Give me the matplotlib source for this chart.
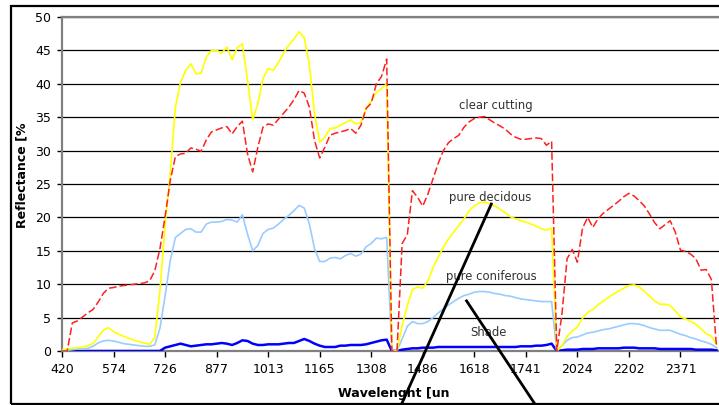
import numpy as np
import matplotlib
matplotlib.use('Agg')
import matplotlib.pyplot as plt
from matplotlib.patches import Rectangle

# wavelength labels shown every 10th band
wavelength_labels = ['420', '574', '726', '877', '1013', '1165', '1308',
                     '1486', '1618', '1741', '2024', '2202', '2371']

clear_cutting = [
    0.0, 0.0, 4.2, 4.5, 5.1, 5.7, 6.2, 7.3, 8.6, 9.4,
    9.5, 9.7, 9.8, 9.9, 10.0, 10.1, 10.2, 10.5, 12.0, 15.3,
    20.1, 25.5, 29.1, 29.5, 29.6, 30.4, 30.2, 29.9, 31.6, 32.8,
    33.1, 33.4, 33.6, 32.5, 33.6, 34.4, 29.5, 26.8, 30.5, 33.5,
    34.0, 33.8, 34.7, 35.6, 36.5, 37.6, 39.0, 38.6, 36.5, 31.5,
    28.9, 30.5, 32.3, 32.6, 32.8, 33.0, 33.3, 32.6, 33.8, 36.3,
    37.1, 40.0, 41.1, 43.7, 0.0, 0.0, 16.1, 17.4, 24.0, 23.0,
    21.7, 23.5, 25.8, 28.1, 30.0, 31.2, 31.8, 32.3, 33.5, 34.3,
    34.8, 35.0, 35.1, 34.6, 34.1, 33.7, 33.2, 32.5, 32.0, 31.7,
    31.7, 31.8, 31.9, 31.8, 30.8, 31.4, 0.0, 5.5, 13.8, 15.2,
    13.3, 18.4, 20.0, 18.5, 19.8, 20.6, 21.2, 21.8, 22.4, 23.1,
    23.6, 23.2, 22.5, 21.7, 20.5, 19.2, 18.3, 18.9, 19.5, 17.8,
    15.1, 14.9, 14.5, 13.8, 12.1, 12.2, 10.7, 0.5]

pure_decidous = [
    0.2, 0.3, 0.4, 0.5, 0.6, 0.8, 1.1, 2.1, 3.1, 3.5,
    2.9, 2.5, 2.2, 1.9, 1.6, 1.4, 1.2, 1.0, 2.0, 9.0,
    18.8, 26.5, 36.5, 40.2, 42.0, 43.0, 41.5, 41.6, 44.0, 45.0,
    45.0, 44.6, 45.5, 43.6, 45.4, 46.0, 40.5, 34.6, 37.0, 40.8,
    42.3, 42.0, 43.2, 44.6, 45.8, 46.7, 47.8, 46.9, 42.8, 35.5,
    31.3, 32.0, 33.3, 33.4, 33.8, 34.2, 34.6, 34.0, 34.2, 36.3,
    37.4, 38.7, 39.3, 40.0, 0.0, 0.0, 3.8, 6.8, 9.2, 9.6,
    9.4, 10.5, 12.5, 14.1, 15.5, 16.8, 17.8, 18.8, 19.8, 21.0,
    21.7, 22.2, 22.3, 22.0, 21.7, 21.2, 20.7, 20.1, 19.8, 19.5,
    19.3, 19.0, 18.7, 18.3, 18.1, 18.4, 0.0, 0.8, 2.2, 3.0,
    3.6, 4.9, 5.8, 6.2, 6.9, 7.5, 8.0, 8.5, 9.0, 9.4,
    9.8, 9.9, 9.6, 8.9, 8.2, 7.5, 7.0, 7.0, 6.8, 6.0,
    5.1, 4.8, 4.4, 4.0, 3.3, 2.6, 2.2, 1.0]

pure_coniferous = [
    0.0, 0.1, 0.2, 0.3, 0.3, 0.4, 0.7, 1.2, 1.5, 1.6,
    1.5, 1.3, 1.1, 1.0, 0.9, 0.8, 0.7, 0.7, 0.9, 3.4,
    8.2, 13.5, 17.0, 17.6, 18.2, 18.3, 17.8, 17.8, 19.0, 19.3,
    19.3, 19.4, 19.7, 19.6, 19.3, 20.4, 17.5, 15.0, 15.8, 17.6,
    18.2, 18.4, 19.0, 19.7, 20.3, 21.0, 21.8, 21.4, 19.0, 15.3,
    13.4, 13.4, 13.9, 14.0, 13.8, 14.3, 14.6, 14.2, 14.5, 15.6,
    16.1, 16.9, 16.8, 17.0, 0.0, 0.0, 1.8, 3.7, 4.4, 4.1,
    4.1, 4.4, 5.0, 5.7, 6.3, 6.9, 7.4, 7.9, 8.3, 8.5,
    8.8, 8.9, 8.9, 8.8, 8.6, 8.5, 8.3, 8.2, 8.0, 7.8,
    7.7, 7.6, 7.5, 7.4, 7.4, 7.4, 0.0, 0.8, 1.6, 2.0,
    2.1, 2.4, 2.7, 2.8, 3.0, 3.2, 3.3, 3.5, 3.7, 3.9,
    4.1, 4.1, 4.0, 3.8, 3.5, 3.3, 3.1, 3.1, 3.1, 2.8,
    2.5, 2.3, 2.0, 1.8, 1.5, 1.3, 1.0, 0.5]

shade = [
    0.0, 0.0, 0.0, 0.0, 0.0, 0.0, 0.0, 0.0, 0.0, 0.0,
    0.0, 0.0, 0.0, 0.0, 0.0, 0.0, 0.0, 0.0, 0.0, 0.0,
    0.5, 0.7, 0.9, 1.1, 0.9, 0.7, 0.8, 0.9, 1.0, 1.0,
    1.1, 1.2, 1.1, 0.9, 1.2, 1.6, 1.5, 1.1, 0.9, 0.9,
    1.0, 1.0, 1.0, 1.1, 1.2, 1.2, 1.5, 1.8, 1.5, 1.1,
    0.8, 0.6, 0.6, 0.6, 0.8, 0.8, 0.9, 0.9, 0.9, 1.0,
    1.2, 1.4, 1.6, 1.7, 0.0, 0.0, 0.2, 0.3, 0.4, 0.4,
    0.5, 0.5, 0.5, 0.6, 0.6, 0.6, 0.6, 0.6, 0.6, 0.6,
    0.6, 0.6, 0.6, 0.6, 0.6, 0.6, 0.6, 0.6, 0.6, 0.7,
    0.7, 0.7, 0.8, 0.8, 0.9, 1.1, 0.0, 0.1, 0.2, 0.2,
    0.2, 0.3, 0.3, 0.3, 0.4, 0.4, 0.4, 0.4, 0.4, 0.5,
    0.5, 0.5, 0.4, 0.4, 0.4, 0.4, 0.3, 0.3, 0.3, 0.3,
    0.3, 0.3, 0.3, 0.2, 0.2, 0.2, 0.2, 0.1]

band = np.arange(len(clear_cutting))

fig = plt.figure(figsize=(7.19, 4.05), dpi=100)
ax = fig.add_axes([62 / 719, 54 / 405, 670 / 719, 334 / 405])

ax.plot(band, shade, color='#0000ff', lw=1.8, zorder=3)
ax.plot(band, pure_coniferous, color='#99ccff', lw=1.2, zorder=3)
ax.plot(band, pure_decidous, color='#ffff00', lw=1.2, zorder=3)
ax.plot(band, clear_cutting, color='#ff2020', lw=1.1, dashes=(5, 2), zorder=3)

ax.set_xlim(0, 130)
ax.set_ylim(0, 50)
ax.set_yticks(np.arange(0, 51, 5))
ax.set_xticks(np.arange(0, 130, 10))
ax.set_xticklabels(wavelength_labels)
ax.tick_params(axis='y', direction='out', length=3.6, width=1, pad=4, labelsize=9)
ax.tick_params(axis='x', direction='out', length=4.3, width=1, pad=4.5, labelsize=9)

ax.set_axisbelow(True)
ax.yaxis.grid(True, color='black', lw=0.9)
for side in ['left', 'bottom', 'top']:
    ax.spines[side].set_color('#808080')
    ax.spines[side].set_linewidth(1.6)
ax.spines['right'].set_visible(False)

# series names written inside the plot
lab = dict(ha='center', va='center', fontsize=8.4, color='#333333')
ax.text(84.1, 36.8, 'clear cutting', **lab)
ax.text(83.0, 23.05, 'pure decidous', **lab)
ax.text(83.3, 11.1, 'pure coniferous', **lab)
ax.text(82.7, 2.7, 'Shade', **lab)

# pointer lines
ax.plot([83.3, 65.8], [22.0, -8.1], color='black', lw=2, clip_on=False, zorder=10)
ax.plot([78.5, 91.9], [7.5, -8.1], color='black', lw=2, clip_on=False, zorder=10)

fig.text(22 / 719, 1 - 175 / 405, 'Reflectance [%', rotation=90,
         fontweight='bold', fontsize=9, ha='center', va='center')
fig.text(393.5 / 719, 1 - 393 / 405, 'Wavelenght [un',
         fontweight='bold', fontsize=9, ha='center', va='center')

fig.add_artist(Rectangle((11 / 719, 1.5 / 405), 1.0, 398 / 405,
                         transform=fig.transFigure, fill=False,
                         ec='black', lw=1.6))

fig.savefig('out.png', dpi=100)
